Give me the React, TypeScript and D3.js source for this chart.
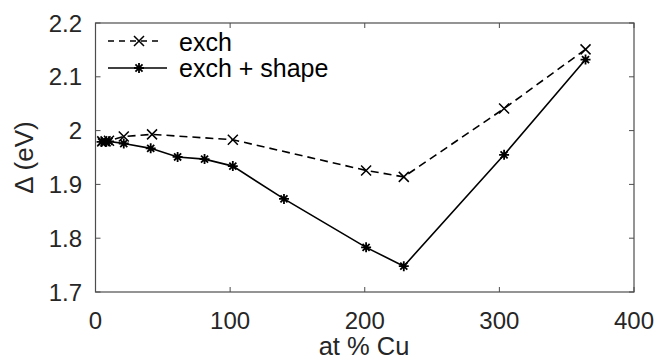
import { useMemo } from "react";
import * as d3 from "d3";

// exch
const exchX = [5, 7.5, 10, 21, 42, 102, 201, 229, 303.5, 364];
const exchY = [1.98, 1.98, 1.981, 1.989, 1.993, 1.983, 1.926, 1.914, 2.041, 2.151];

// exch + shape
const shapeX = [4.5, 7.5, 10, 21, 41, 61, 81, 102, 140, 201, 229, 303.5, 364];
const shapeY = [1.979, 1.979, 1.98, 1.976, 1.967, 1.951, 1.947, 1.934, 1.873, 1.783, 1.748, 1.955, 2.132];

const xTicks = [0, 100, 200, 300, 400];
const yTicks = [1.7, 1.8, 1.9, 2.0, 2.1, 2.2];
const legendLabels = ["exch", "exch + shape"];

const W = 655, H = 360;
const m = { left: 95.5, right: 21, top: 23, bottom: 68 };
const FONT = "'Liberation Sans', Arial, sans-serif";
const AXIS = "#4d4d4d";
const TXT = "#262626";

function Cross ( { x, y, s = 5 }: { x: number; y: number; s?: number } )
{
    return <path d={ `M${ x - s },${ y - s }L${ x + s },${ y + s }M${ x - s },${ y + s }L${ x + s },${ y - s }` } stroke="#000" strokeWidth={ 1.5 } fill="none" />;
}

function Star ( { x, y, s = 5 }: { x: number; y: number; s?: number } )
{
    const d = s * 0.707;
    return <path d={ `M${ x - s },${ y }L${ x + s },${ y }M${ x },${ y - s }L${ x },${ y + s }M${ x - d },${ y - d }L${ x + d },${ y + d }M${ x - d },${ y + d }L${ x + d },${ y - d }` } stroke="#000" strokeWidth={ 1.8 } fill="none" />;
}

export default function App ()
{
    const x = useMemo( () => d3.scaleLinear().domain( [ 0, 400 ] ).range( [ m.left, W - m.right ] ), [] );
    const y = useMemo( () => d3.scaleLinear().domain( [ 1.7, 2.2 ] ).range( [ H - m.bottom, m.top ] ), [] );

    const line = d3.line<[ number, number ]>().x( ( d ) => x( d[ 0 ] ) ).y( ( d ) => y( d[ 1 ] ) );
    const exch = exchX.map( ( v, i ) => [ v, exchY[ i ] ] as [ number, number ] );
    const shape = shapeX.map( ( v, i ) => [ v, shapeY[ i ] ] as [ number, number ] );

    const x0 = m.left, x1 = W - m.right, y0 = m.top, y1 = H - m.bottom;
    const tk = 5;

    return (
        <svg width={ W } height={ H } style={ { position: "absolute", left: 0, top: 0, background: "#fff" } } fontFamily={ FONT }>
            {/* box */ }
            <rect x={ x0 } y={ y0 } width={ x1 - x0 } height={ y1 - y0 } fill="none" stroke={ AXIS } strokeWidth={ 1.2 } />

            {/* ticks */ }
            { xTicks.map( ( t ) => (
                <g key={ "x" + t }>
                    <line x1={ x( t ) } x2={ x( t ) } y1={ y1 } y2={ y1 - tk } stroke={ AXIS } strokeWidth={ 1 } />
                    <line x1={ x( t ) } x2={ x( t ) } y1={ y0 } y2={ y0 + tk } stroke={ AXIS } strokeWidth={ 1 } />
                    <text x={ x( t ) } y={ 329 } textAnchor="middle" fontSize={ 24 } fill={ TXT }>{ t }</text>
                </g>
            ) ) }
            { yTicks.map( ( t ) => (
                <g key={ "y" + t }>
                    <line x1={ x0 } x2={ x0 + tk } y1={ y( t ) } y2={ y( t ) } stroke={ AXIS } strokeWidth={ 1 } />
                    <line x1={ x1 } x2={ x1 - tk } y1={ y( t ) } y2={ y( t ) } stroke={ AXIS } strokeWidth={ 1 } />
                    <text x={ 82 } y={ y( t ) + 8.5 } textAnchor="end" fontSize={ 24 } fill={ TXT }>{ d3.format( "~g" )( t ) }</text>
                </g>
            ) ) }

            {/* axis labels */ }
            <text x={ 364 } y={ 355 } textAnchor="middle" fontSize={ 25.5 } fill={ TXT }>at % Cu</text>
            <text transform={ `translate(33,${ (y0 + y1) / 2 }) rotate(-90)` } textAnchor="middle" fontSize={ 26 } fill={ TXT }>Δ (eV)</text>

            {/* series */ }
            <path d={ line( exch ) ?? "" } fill="none" stroke="#000" strokeWidth={ 1.6 } strokeDasharray="8,5" />
            <path d={ line( shape ) ?? "" } fill="none" stroke="#000" strokeWidth={ 1.6 } />
            { exch.map( ( d, i ) => <Cross key={ "c" + i } x={ x( d[ 0 ] ) } y={ y( d[ 1 ] ) } /> ) }
            { shape.map( ( d, i ) => <Star key={ "s" + i } x={ x( d[ 0 ] ) } y={ y( d[ 1 ] ) } /> ) }

            {/* legend */ }
            <g>
                <line x1={ 108 } x2={ 163 } y1={ 41 } y2={ 41 } stroke="#000" strokeWidth={ 1.6 } strokeDasharray="6,5" />
                <Cross x={ 139 } y={ 41 } />
                <text x={ 179 } y={ 51 } fontSize={ 25 } fill="#000">{ legendLabels[ 0 ] }</text>
                <line x1={ 108 } x2={ 167 } y1={ 68 } y2={ 68 } stroke="#000" strokeWidth={ 1.6 } />
                <Star x={ 139 } y={ 68 } />
                <text x={ 179 } y={ 77 } fontSize={ 25 } fill="#000">{ legendLabels[ 1 ] }</text>
            </g>
        </svg>
    );
}
